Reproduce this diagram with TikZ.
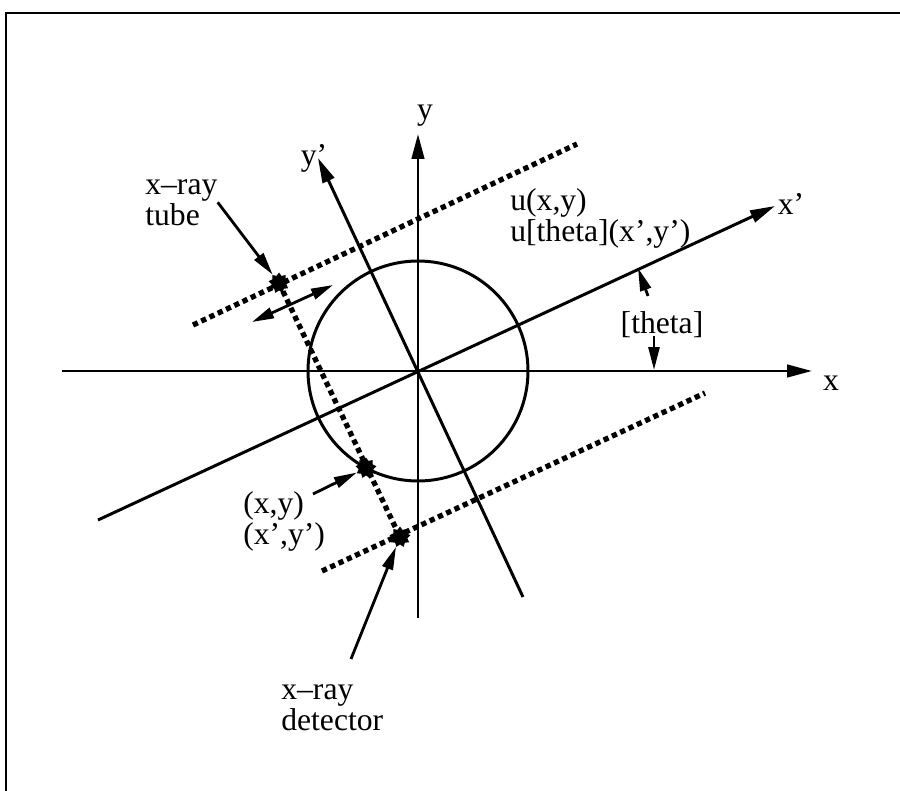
\documentclass[tikz,border=0pt]{standalone}
\usepackage{fontspec}
\setmainfont{Liberation Serif}
\usetikzlibrary{arrows.meta, shapes.geometric}

\begin{document}
\begin{tikzpicture}[
  x=0.02cm, y=-0.02cm,
  axis/.style={line width=1.7pt, -{Triangle[length=0.5cm, width=0.25cm]}},
  plain/.style={line width=1.7pt},
  ray/.style={line width=3pt, dash pattern=on 3pt off 2.2pt},
  ptr/.style={line width=1.6pt, -{Triangle[length=0.46cm, width=0.22cm]}},
  dbl/.style={line width=1.6pt, {Triangle[length=0.44cm, width=0.22cm]}-{Triangle[length=0.44cm, width=0.22cm]}},
  blob/.style={star, star points=9, star point ratio=1.4, fill=black,
               inner sep=0pt, minimum size=0.42cm},
  lbl/.style={font=\fontsize{18}{17.5}\selectfont, inner sep=0pt, align=left}
]
  \useasboundingbox (0,0) rectangle (900,791);

  % frame
  \draw[plain] (6,791) -- (6,13) -- (900,13);

  % fixed and rotated axes
  \coordinate (O) at (418,371);
  \coordinate (xl) at (62,371);
  \coordinate (xr) at (812,371);
  \coordinate (yb) at (418,618);
  \coordinate (yt) at (418,134);
  \coordinate (xpl) at (98,520);
  \coordinate (xpr) at (775,206);
  \coordinate (ypb) at (523,597);
  \coordinate (ypt) at (318,158);
  \draw[axis] (xl) -- (xr);
  \draw[axis] (yb) -- (yt);
  \draw[axis] (xpl) -- (xpr);
  \draw[axis] (ypb) -- (ypt);
  \node[lbl, anchor=center] (xlbl) at (831,383) {x};
  \node[lbl, anchor=center] (ylbl) at (425,116) {y};
  \node[lbl, anchor=center] (xplbl) at (791,204) {x'};
  \node[lbl, anchor=center] (yplbl) at (314,158) {y'};

  % object
  \draw[plain] (O) circle[radius=110];

  % source and detector paths
  \coordinate (srcl) at (193,325);
  \coordinate (srcr) at (577,144);
  \coordinate (detl) at (322,571);
  \coordinate (detr) at (705,393);
  \draw[ray] (srcl) -- (srcr);
  \draw[ray] (detl) -- (detr);
  \node[blob] (T) at (279,283) {};
  \node[blob] (P) at (366,468) {};
  \node[blob] (D) at (400,537) {};
  \draw[ray] (T.center) -- (D.center);
  \coordinate (shl) at (252,322);
  \coordinate (shr) at (333,285);
  \draw[dbl] (shl) -- (shr);

  % labels
  \node[lbl, anchor=north west] (tubelbl) at (145,179) {x--ray\\tube};
  \draw[ptr] (tubelbl.east) -- (T);
  \node[lbl, anchor=north west] (ulbl) at (510,188) {u(x,y)\\u[theta](x',y')};
  \node[lbl, anchor=north west] (xylbl) at (243,491) {(x,y)\\(x',y')};
  \coordinate (xytail) at (313,494);
  \draw[ptr] (xytail) -- (P);
  \node[lbl, anchor=north west] (detlbl) at (281,684) {x--ray\\detector};
  \coordinate (dettail) at (351,659);
  \draw[ptr] (dettail) -- (D);

  % angle marks
  \node[lbl, anchor=center] (thlbl) at (662,325) {[theta]};
  \coordinate (thup) at (648,296);
  \coordinate (thxp) at (638,268);
  \coordinate (thdn) at (654,336);
  \coordinate (thx) at (654,370);
  \draw[ptr] (thup) -- (thxp);
  \draw[ptr] (thdn) -- (thx);
\end{tikzpicture}
\end{document}
